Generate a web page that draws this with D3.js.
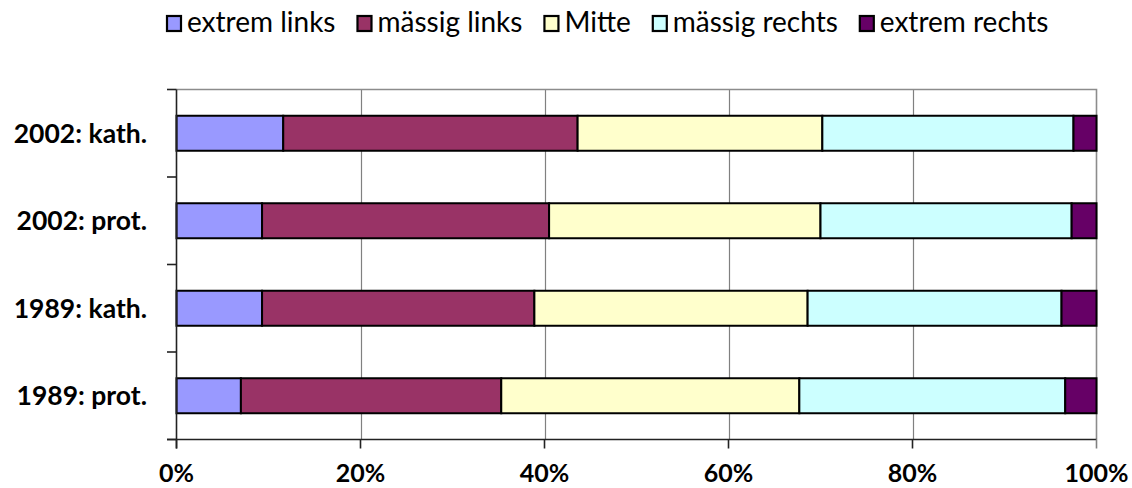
<!DOCTYPE html>
<html>
<head>
<meta charset="utf-8">
<script src="https://cdn.jsdelivr.net/npm/d3@7"></script>
<style>
  html, body { margin: 0; padding: 0; background: #ffffff; }
  svg { display: block; }
  text { font-family: Lato, "Open Sans", "DejaVu Sans", sans-serif; fill: #000; }
</style>
</head>
<body>
<svg id="chart" width="1132" height="488"></svg>
<script>
// ---- data ----
const categories = ["2002: kath.", "2002: prot.", "1989: kath.", "1989: prot."];
const seriesNames = ["extrem links", "mässig links", "Mitte", "mässig rechts", "extrem rechts"];
const extremLinks   = [11.6, 9.3, 9.3, 7.0];
const maessigLinks  = [32.0, 31.2, 29.6, 28.3];
const mitte         = [26.6, 29.5, 29.7, 32.4];
const maessigRechts = [27.3, 27.3, 27.6, 28.9];
const extremRechts  = [2.5, 2.7, 3.8, 3.4];
const xTickValues = [0, 0.2, 0.4, 0.6, 0.8, 1.0];
const colors = ["#9999FF", "#993366", "#FFFFCC", "#CCFFFF", "#660066"];

const seriesValues = [extremLinks, maessigLinks, mitte, maessigRechts, extremRechts];
const rows = categories.map((c, i) => {
  const r = { category: c };
  seriesNames.forEach((s, j) => { r[s] = seriesValues[j][i]; });
  return r;
});

// ---- layout ----
const svg = d3.select("#chart");
const plot = { left: 176.5, top: 89.5, right: 1096.5, bottom: 439.5 };

const x = d3.scaleLinear().domain([0, 1]).range([plot.left, plot.right]);
const y = d3.scaleBand().domain(categories).range([plot.top, plot.bottom])
  .paddingInner(0.6).paddingOuter(0.3);

const stack = d3.stack().keys(seriesNames).offset(d3.stackOffsetExpand);
const stacked = stack(rows);

// gridlines
svg.append("g").selectAll("line")
  .data(xTickValues.filter(v => v > 0 && v < 1))
  .join("line")
  .attr("x1", d => Math.round(x(d)) + 0.5).attr("x2", d => Math.round(x(d)) + 0.5)
  .attr("y1", plot.top).attr("y2", plot.bottom)
  .attr("stroke", "#808080").attr("stroke-width", 1.2);

// plot border top/right
svg.append("path")
  .attr("d", `M${plot.left},${plot.top}H${plot.right}V${plot.bottom}`)
  .attr("fill", "none").attr("stroke", "#8c8c8c").attr("stroke-width", 1.6);

// bars
svg.append("g").selectAll("g")
  .data(stacked)
  .join("g")
  .attr("fill", (d, i) => colors[i])
  .selectAll("rect")
  .data(d => d)
  .join("rect")
  .attr("x", d => x(d[0]))
  .attr("width", d => x(d[1]) - x(d[0]))
  .attr("y", d => y(d.data.category))
  .attr("height", y.bandwidth())
  .attr("stroke", "#000").attr("stroke-width", 2);

// y axis
const yAxisG = svg.append("g");
yAxisG.append("line")
  .attr("x1", plot.left).attr("x2", plot.left)
  .attr("y1", plot.top).attr("y2", plot.bottom + 9)
  .attr("stroke", "#222").attr("stroke-width", 1.6);
const yTickPos = categories.map(c => y(c) - y.step() * y.paddingOuter())
  .concat([plot.bottom]);
yAxisG.selectAll("line.tick").data(yTickPos).join("line").attr("class", "tick")
  .attr("x1", plot.left - 9.5).attr("x2", plot.left)
  .attr("y1", d => d).attr("y2", d => d)
  .attr("stroke", "#222").attr("stroke-width", 1.6);
yAxisG.selectAll("text").data(categories).join("text")
  .attr("x", 147).attr("y", d => y(d) + y.bandwidth() / 2 + 9.5)
  .attr("text-anchor", "end")
  .attr("font-weight", "bold").attr("font-size", 26.5)
  .text(d => d);

// x axis
const xAxisG = svg.append("g");
xAxisG.append("line")
  .attr("x1", plot.left - 9.5).attr("x2", plot.right)
  .attr("y1", plot.bottom).attr("y2", plot.bottom)
  .attr("stroke", "#222").attr("stroke-width", 1.6);
xAxisG.selectAll("line.tick").data(xTickValues).join("line").attr("class", "tick")
  .attr("x1", d => x(d)).attr("x2", d => x(d))
  .attr("y1", plot.bottom).attr("y2", plot.bottom + 9)
  .attr("stroke", d => d === 1 ? "#808080" : "#222").attr("stroke-width", 1.6);
const fmt = d3.format(".0%");
xAxisG.selectAll("text").data(xTickValues).join("text")
  .attr("x", d => x(d)).attr("y", 482)
  .attr("text-anchor", "middle")
  .attr("font-weight", "bold").attr("font-size", 25)
  .text(d => fmt(d));

// legend
const legend = svg.append("g");
let lx = 166;
seriesNames.forEach((s, i) => {
  legend.append("rect")
    .attr("x", lx + 1).attr("y", 16)
    .attr("width", 14).attr("height", 15)
    .attr("fill", colors[i]).attr("stroke", "#000").attr("stroke-width", 2.2);
  const t = legend.append("text")
    .attr("x", lx + 21).attr("y", 32)
    .attr("font-size", 28)
    .text(s);
  const w = t.node().getComputedTextLength();
  lx = lx + 21 + w + 21;
});
</script>
</body>
</html>
